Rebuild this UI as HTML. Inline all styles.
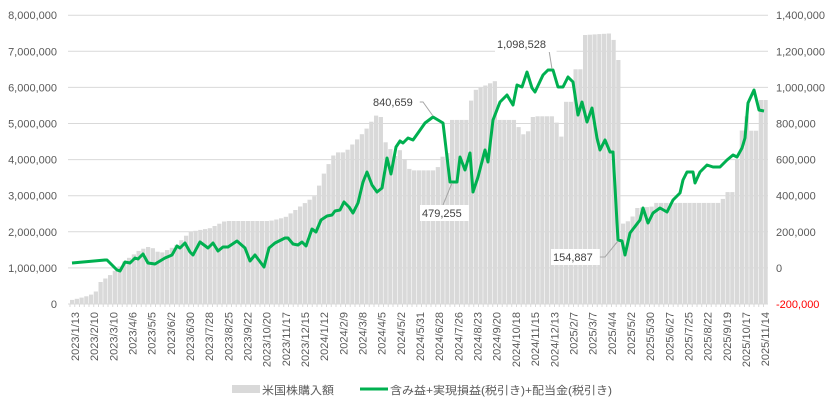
<!DOCTYPE html>
<html><head><meta charset="utf-8">
<style>
html,body{margin:0;padding:0;background:#fff;}
svg{display:block;font-family:"Liberation Sans","Noto Sans CJK JP",sans-serif;}
</style></head>
<body>
<svg id="c" width="838" height="411" xmlns="http://www.w3.org/2000/svg"></svg>
<script>
const svg=document.getElementById('c');
let h='';
const y0=304, pxM=36.1;
for(let i=0;i<=8;i++){const y=y0-i*pxM;
 h+=`<line x1="68" x2="768" y1="${y}" y2="${y}" stroke="#d9d9d9" stroke-width="1"/>`;
 h+=`<text x="57" y="${y+4}" font-size="11" fill="#595959" text-anchor="end">${(i*1000000).toLocaleString('en-US')}</text>`;}
for(let i=0;i<=8;i++){const v=-200000+i*200000;const y=y0-i*pxM;
 h+=`<text x="776" y="${y+4}" font-size="11" fill="${v<0?'#ff0000':'#595959'}">${v.toLocaleString('en-US')}</text>`;}
const bk=[[70,0.1],[85,0.2],[95,0.3],[100,0.6],[110,0.8],[118,1.0],[125,1.2],[140,1.5],[150,1.6],[160,1.4],[175,1.6],[190,2.0],[210,2.1],[225,2.3],[270,2.3],[285,2.4],[300,2.7],[315,3.0],[325,3.7],[335,4.2],[345,4.2],[355,4.5],[365,4.8],[375,5.2],[380,5.3],[385,4.5],[395,4.1],[400,4.27],[410,3.7],[437,3.7],[440,4.07],[447,4.1],[450,5.1],[467,5.1],[473,5.9],[497,6.2],[499,5.1],[517,5.1],[520,4.7],[527,4.7],[533,5.2],[556,5.2],[558,4.5],[561,4.5],[563,5.6],[572,5.6],[574,6.5],[582,6.5],[584,7.45],[613,7.5],[615,6.76],[617,6.76]];
const bk2=[[621,2.2],[632,2.35],[634,2.65],[652,2.7],[654,2.8],[722,2.8],[724,3.1],[733,3.1],[735,3.7],[740,4.5],[744,5.2],[749,5.2],[751,4.8],[756,4.8],[758,5.65],[767,5.65]];
function interp(k,x){if(x<=k[0][0])return k[0][1];for(let i=1;i<k.length;i++){if(x<=k[i][0]){const a=k[i-1],b=k[i];return a[1]+(b[1]-a[1])*(x-a[0])/(b[0]-a[0]);}}return k[k.length-1][1];}
for(let x=70;x<767;x+=4.75){let v;if(x<617.5)v=interp(bk,x+2);else if(x<620.5)continue;else v=interp(bk2,x+2);
 const hh=v*pxM;h+=`<rect x="${x.toFixed(2)}" y="${(y0-hh).toFixed(1)}" width="4.2" height="${hh.toFixed(1)}" fill="#d9d9d9"/>`;}
for(let x=70;x<=768;x+=4.75)h+=`<line x1="${x}" x2="${x}" y1="304" y2="307" stroke="#d9d9d9"/>`;
h+=`<line x1="68" x2="768" y1="304" y2="304" stroke="#d9d9d9"/>`;
const lp=[[72,263],[105,260],[107,260],[117,270],[120,271],[125,262],[130,263],[135,258],[138,259],[143,254],[148,263],[155,264],[165,258],[172,255],[177,246],[180,248],[185,243],[190,252],[193,255],[200,242],[208,248],[213,243],[218,251],[223,247],[228,247],[237,241],[245,248],[250,261],[255,255],[264,267],[269,248],[275,243],[285,238],[288,238],[293,244],[298,245],[302,242],[306,246],[312,229],[316,232],[321,220],[327,216],[332,215],[335,211],[340,210],[344,202],[349,207],[353,213],[358,203],[363,182],[367,172],[372,185],[377,192],[382,188],[387,158],[391,174],[396,147],[400,141],[403,143],[408,138],[413,140],[418,133],[425,123],[433,117],[443,123],[450,182],[457,182],[460,157],[465,170],[470,153],[473,192],[478,177],[485,150],[488,162],[493,120],[500,102],[507,95],[513,105],[517,85],[522,87],[527,72],[532,88],[535,92],[543,75],[548,70],[553,70],[558,87],[563,87],[568,77],[573,82],[578,115],[582,102],[587,122],[592,108],[597,138],[600,150],[605,140],[610,152],[613,152],[618,240],[622,241],[625,255],[630,233],[640,220],[643,208],[648,223],[653,213],[660,208],[667,212],[673,200],[680,193],[683,180],[687,172],[693,172],[695,183],[700,172],[707,165],[713,167],[720,167],[727,160],[733,155],[737,157],[742,148],[745,138],[748,103],[754,90],[759,110],[764,111]];
h+=`<polyline points="${lp.map(p=>p.join(',')).join(' ')}" fill="none" stroke="#00b050" stroke-width="3" stroke-linejoin="round"/>`;
function lab(x,y,t,lx1,ly1,lx2,ly2,lx3,ly3){
 h+=`<polyline points="${lx1},${ly1} ${lx2},${ly2} ${lx3},${ly3}" fill="none" stroke="#a6a6a6" stroke-width="1"/>`;
 h+=`<rect x="${x-2}" y="${y-12}" width="${t.length*6.4+4}" height="16" fill="#fff"/>`;
 h+=`<text x="${x}" y="${y}" font-size="11" fill="#404040">${t}</text>`;}
lab(373,106,'840,659',416,102,423,102,433,116);
lab(422,217,'479,255',443,205,443,205,452,183);
lab(497,48,'1,098,528',548,44,548,44,552,69);
lab(553,261,'154,887',598,257,605,257,618,241);
const xl=['2023/1/13','2023/2/10','2023/3/10','2023/4/6','2023/5/5','2023/6/2','2023/6/30','2023/7/28','2023/8/25','2023/9/22','2023/10/20','2023/11/17','2023/12/15','2024/1/12','2024/2/9','2024/3/8','2024/4/5','2024/5/2','2024/5/31','2024/6/28','2024/7/26','2024/8/23','2024/9/20','2024/10/18','2024/11/15','2024/12/13','2025/2/7','2025/3/7','2025/4/4','2025/5/2','2025/5/30','2025/6/27','2025/7/25','2025/8/22','2025/9/19','2025/10/17','2025/11/14'];
xl.forEach((t,i)=>{const x=75+i*19.17+4;h+=`<text transform="translate(${x.toFixed(1)},312) rotate(-90)" font-size="11" fill="#595959" text-anchor="end">${t}</text>`;});
h+=`<rect x="232" y="385" width="28" height="8" fill="#d9d9d9"/><text x="262" y="394" font-size="11" fill="#595959" textLength="72" lengthAdjust="spacingAndGlyphs">米国株購入額</text>`;
h+=`<line x1="360" x2="388" y1="389" y2="389" stroke="#00b050" stroke-width="3"/><text x="390" y="394" font-size="11" fill="#595959" textLength="222" lengthAdjust="spacingAndGlyphs">含み益+実現損益(税引き)+配当金(税引き)</text>`;
svg.innerHTML=h;
</script>
</body></html>
